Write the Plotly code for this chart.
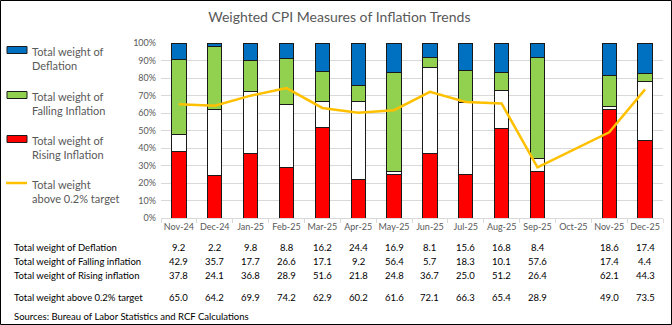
import plotly.graph_objects as go

months = ["Nov-24","Dec-24","Jan-25","Feb-25","Mar-25","Apr-25","May-25","Jun-25",
          "Jul-25","Aug-25","Sep-25","Oct-25","Nov-25","Dec-25"]
deflation = [9.2,2.2,9.8,8.8,16.2,24.4,16.9,8.1,15.6,16.8,8.4,None,18.6,17.4]
falling   = [42.9,35.7,17.7,26.6,17.1,9.2,56.4,5.7,18.3,10.1,57.6,None,17.4,4.4]
rising    = [37.8,24.1,36.8,28.9,51.6,21.8,24.8,36.7,25.0,51.2,26.4,None,62.1,44.3]
above     = [65.0,64.2,69.9,74.2,62.9,60.2,61.6,72.1,66.3,65.4,28.9,None,49.0,73.5]
row_labels = ["Total weight of Deflation","Total weight of Falling inflation",
              "Total weight of Rising inflation","Total weight above 0.2% target"]
legend_labels = ["Total weight of<br>Deflation","Total weight of<br>Falling Inflation",
                 "Total weight of<br>Rising Inflation","Total weight<br>above 0.2% target"]
title = "Weighted CPI Measures of Inflation Trends"
source = "Sources: Bureau of Labor Statistics and RCF Calculations"

neutral = [None if r is None else round(100 - r - f - d, 1)
           for r, f, d in zip(rising, falling, deflation)]

W, H = 672, 325
L, R, T, B = 161, 663, 43, 218
def px(x): return (x - L) / (R - L)
def py(y): return (B - y) / (B - T)

FONT = "Lato"
GREY = "#595959"
RED, GREEN, BLUE, GOLD = "#FF0000", "#92D050", "#0070C0", "#FFC000"

fig = go.Figure()
def frac(v): return [None if a is None else a / 100 for a in v]
for vals, col in [(rising, RED), (neutral, "#FFFFFF"), (falling, GREEN), (deflation, BLUE)]:
    fig.add_bar(x=months, y=frac(vals), marker=dict(color=col, line=dict(color="#1a1a1a", width=1)),
                showlegend=False, hoverinfo="skip")
fig.add_scatter(x=months, y=frac(above), mode="lines", connectgaps=True,
                line=dict(color=GOLD, width=2.5), showlegend=False)

fig.update_layout(
    barmode="stack", bargap=0.6, width=W, height=H,
    margin=dict(l=L, r=W - R, t=T, b=H - B),
    paper_bgcolor="white", plot_bgcolor="white",
    font=dict(family=FONT, color=GREY, size=9),
    title=dict(text=title, x=0.505, xref="container", xanchor="center", y=1 - 17 / H, yanchor="middle",
               font=dict(size=14, color=GREY, family=FONT)),
)
fig.update_xaxes(type="category", categoryorder="array", categoryarray=months,
                 showgrid=False, showline=True, linecolor="#d9d9d9", ticks="outside",
                 tickson="boundaries", ticklen=4, tickcolor="#d9d9d9", tickangle=0,
                 tickfont=dict(size=9, color=GREY))
fig.update_yaxes(range=[0, 1], dtick=0.1, tickformat=".0%", showgrid=True, gridcolor="#d9d9d9",
                 zeroline=False, showline=False, tickfont=dict(size=9, color=GREY), ticklabelstandoff=4)

# border
fig.add_shape(type="rect", xref="paper", yref="paper", x0=px(0.5), x1=px(W - 0.5), y0=py(H - 0.5), y1=py(0.5),
              line=dict(color="black", width=1), fillcolor="rgba(0,0,0,0)", layer="above")

# legend (manual)
leg_y = [50, 95, 139, 183]
leg_cols = [BLUE, GREEN, RED]
for i, lab in enumerate(legend_labels):
    yc = leg_y[i]
    if i < 3:
        fig.add_shape(type="rect", xref="paper", yref="paper", x0=px(7), x1=px(27),
                      y0=py(yc + 3.5), y1=py(yc - 3.5), fillcolor=leg_cols[i],
                      line=dict(color="#1a1a1a", width=1))
    else:
        fig.add_shape(type="line", xref="paper", yref="paper", x0=px(6), x1=px(27),
                      y0=py(yc), y1=py(yc), line=dict(color=GOLD, width=2.5))
    fig.add_annotation(text=lab, xref="paper", yref="paper", x=px(30), y=py(yc - 7),
                       xanchor="left", yanchor="top", showarrow=False, align="left",
                       font=dict(size=11, color=GREY, family=FONT))

# data table
row_y = [247, 261, 275, 297]
series = [deflation, falling, rising, above]
for lab, yv, vals in zip(row_labels, row_y, series):
    fig.add_annotation(text=lab, xref="paper", yref="paper", x=px(12), y=py(yv),
                       xanchor="left", yanchor="middle", showarrow=False,
                       font=dict(size=9.5, color="#000000", family=FONT))
    for m, v in zip(months, vals):
        if v is None:
            continue
        fig.add_annotation(text=f"{v:.1f}", xref="x", yref="paper", x=m, y=py(yv),
                           xanchor="center", yanchor="middle", showarrow=False,
                           font=dict(size=9.5, color="#000000", family=FONT))
fig.add_annotation(text=source, xref="paper", yref="paper", x=px(12), y=py(316),
                   xanchor="left", yanchor="middle", showarrow=False,
                   font=dict(size=9.5, color="#000000", family=FONT))

fig.write_html("out.html")
